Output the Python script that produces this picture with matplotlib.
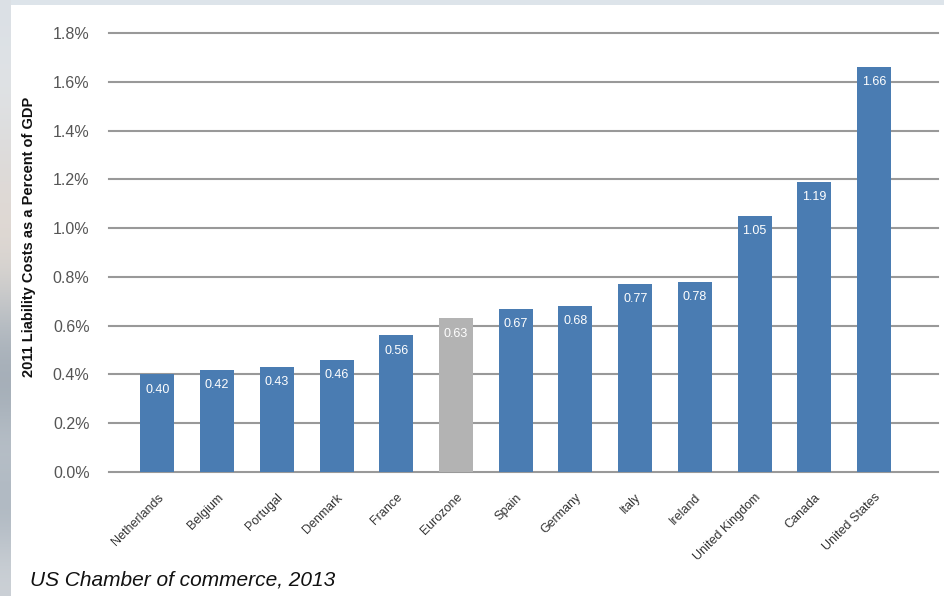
import matplotlib.pyplot as plt
import numpy as np

countries = ["Netherlands", "Belgium", "Portugal", "Denmark", "France", "Eurozone",
             "Spain", "Germany", "Italy", "Ireland", "United Kingdom", "Canada",
             "United States"]
costs = [0.40, 0.42, 0.43, 0.46, 0.56, 0.63, 0.67, 0.68, 0.77, 0.78, 1.05, 1.19, 1.66]
yticks = [0.0, 0.2, 0.4, 0.6, 0.8, 1.0, 1.2, 1.4, 1.6, 1.8]

W, H = 945, 596
plt.rcParams['font.family'] = ['Liberation Sans', 'DejaVu Sans']

fig = plt.figure(figsize=(W / 100, H / 100), dpi=100)
fig.patch.set_facecolor("#dde4ea")

# --- background strip on the left (photo-like)
bg = fig.add_axes([0, 0, 11 / W, 1])
strip = np.array([[0.86, 0.88, 0.90], [0.88, 0.89, 0.90], [0.86, 0.86, 0.86],
                  [0.88, 0.85, 0.83], [0.86, 0.84, 0.82], [0.70, 0.73, 0.76],
                  [0.62, 0.66, 0.70], [0.74, 0.77, 0.80], [0.66, 0.70, 0.74],
                  [0.80, 0.82, 0.84]])
bg.imshow(strip[:, None, :], aspect="auto", interpolation="bicubic")
bg.axis("off")

# --- white panel
panel = fig.add_axes([11 / W, 0, 1 - 11 / W, (H - 5) / H])
panel.set_facecolor("white")
panel.set_xticks([])
panel.set_yticks([])
for s in panel.spines.values():
    s.set_visible(False)

# --- chart
ax = fig.add_axes([109 / W, (H - 472) / H, (938 - 109) / W, (472 - 33) / H])
ax.set_facecolor("none")
x = np.arange(len(countries))
colors = ["#b3b3b3" if c == "Eurozone" else "#4a7cb2" for c in countries]
ax.bar(x, costs, width=0.57, color=colors, zorder=3)

for xi, v in zip(x, costs):
    ax.annotate("%.2f" % v, (xi, v), xytext=(0, -11), textcoords="offset points",
                ha="center", va="center", color="white", fontsize=9, zorder=4)

ax.set_xlim(-0.81, 13.07)
ax.set_ylim(0, 1.8)
ax.set_yticks(yticks)
ax.set_yticklabels(["%.1f%%" % t for t in yticks])
ax.yaxis.grid(True, color="#999999", linewidth=1.5, zorder=0)
ax.tick_params(axis="y", length=0, pad=14, labelsize=11.5, labelcolor="#555555")
ax.tick_params(axis="x", length=0, pad=14, labelsize=9, labelcolor="#333333")
ax.set_xticks(x)
ax.set_xticklabels(countries, rotation=45, ha="right", rotation_mode="anchor")
for s in ax.spines.values():
    s.set_visible(False)
for line in ax.get_ygridlines():
    line.set_clip_on(False)

fig.text(29 / W, 1 - 237 / H, "2011 Liability Costs as a Percent of GDP",
         rotation=90, ha="center", va="center", fontsize=10.5, fontweight="bold",
         color="#111111")
fig.text(30 / W, 1 - 580 / H, "US Chamber of commerce, 2013", ha="left", va="center",
         fontsize=15, fontstyle="italic", color="#111111")

fig.savefig("out.png", dpi=100)
